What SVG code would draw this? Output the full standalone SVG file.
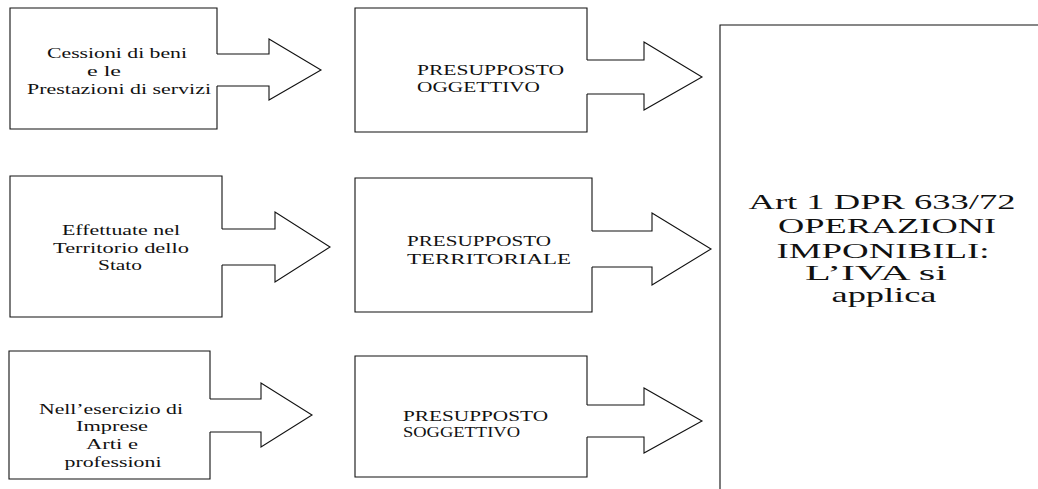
<svg xmlns="http://www.w3.org/2000/svg" width="1038" height="489" viewBox="0 0 1038 489" font-family="Liberation Serif, Times New Roman, Tinos, Nimbus Roman, serif">
<style>
.box{fill:none;stroke:#111;stroke-width:1.1}
.arr{fill:none;stroke:#111;stroke-width:1.1;stroke-linejoin:miter}
text{font-family:"Liberation Serif","Times New Roman",Tinos,serif;fill:#111}
.s{font-size:15.5px}
.c{text-anchor:middle}
.b{font-size:22px;text-anchor:middle}
</style>
<rect width="1038" height="489" fill="#fff"/>
<g id="n-cessioni">
<path class="box" d="M217,54 V8 H10 V129 H217 V86"/>
<text class="s c" x="117" y="58" textLength="140" lengthAdjust="spacingAndGlyphs">Cessioni di beni</text>
<text class="s c" x="104" y="76" textLength="34" lengthAdjust="spacingAndGlyphs">e le</text>
<text class="s c" x="119" y="94" textLength="184" lengthAdjust="spacingAndGlyphs">Prestazioni di servizi</text>
</g>
<g id="n-oggettivo">
<path class="box" d="M587,60 V8 H355 V132 H587 V94"/>
<text class="s" x="417" y="75" textLength="147" lengthAdjust="spacingAndGlyphs">PRESUPPOSTO</text>
<text class="s" x="417" y="92" textLength="123" lengthAdjust="spacingAndGlyphs">OGGETTIVO</text>
</g>
<g id="n-effettuate">
<path class="box" d="M222,229 V176 H10 V317 H222 V265"/>
<text class="s c" x="121" y="235" textLength="118" lengthAdjust="spacingAndGlyphs">Effettuate nel</text>
<text class="s c" x="121" y="253" textLength="136" lengthAdjust="spacingAndGlyphs">Territorio dello</text>
<text class="s c" x="120" y="270" textLength="44" lengthAdjust="spacingAndGlyphs">Stato</text>
</g>
<g id="n-territoriale">
<path class="box" d="M592,231 V178 H355 V312 H592 V267"/>
<text class="s" x="407" y="246" textLength="144" lengthAdjust="spacingAndGlyphs">PRESUPPOSTO</text>
<text class="s" x="407" y="264" textLength="164" lengthAdjust="spacingAndGlyphs">TERRITORIALE</text>
</g>
<g id="n-esercizio">
<path class="box" d="M210,399 V351 H9 V479 H210 V432"/>
<text class="s c" x="111" y="414" textLength="144" lengthAdjust="spacingAndGlyphs">Nell’esercizio di</text>
<text class="s c" x="112" y="431" textLength="72" lengthAdjust="spacingAndGlyphs">Imprese</text>
<text class="s c" x="112" y="449" textLength="52" lengthAdjust="spacingAndGlyphs">Arti e</text>
<text class="s c" x="113" y="467" textLength="97" lengthAdjust="spacingAndGlyphs">professioni</text>
</g>
<g id="n-soggettivo">
<path class="box" d="M587,405 V356 H355 V477 H587 V437"/>
<text class="s" x="403" y="421" textLength="145" lengthAdjust="spacingAndGlyphs">PRESUPPOSTO</text>
<text class="s" x="403" y="437" textLength="117" lengthAdjust="spacingAndGlyphs">SOGGETTIVO</text>
</g>
<g id="n-iva">
<path class="box" d="M1040,25 H720 V490"/>
<text class="b" x="882" y="209" textLength="267" lengthAdjust="spacingAndGlyphs">Art 1 DPR 633/72</text>
<text class="b" x="887" y="233" textLength="218" lengthAdjust="spacingAndGlyphs">OPERAZIONI</text>
<text class="b" x="883" y="258" textLength="213" lengthAdjust="spacingAndGlyphs">IMPONIBILI:</text>
<text class="b" x="876" y="280" textLength="142" lengthAdjust="spacingAndGlyphs">L’IVA si</text>
<text class="b" x="884" y="302" textLength="105" lengthAdjust="spacingAndGlyphs">applica</text>
</g>
<g id="connectors">
<path class="arr" d="M217,54 H269 V39 L321,70 L269,100 V86 H217"/>
<path class="arr" d="M587,60 H644 V42 L702,77 L644,110 V94 H587"/>
<path class="arr" d="M222,229 H275 V212 L330,247 L275,282 V265 H222"/>
<path class="arr" d="M592,231 H652 V213 L711,249 L652,285 V267 H592"/>
<path class="arr" d="M210,399 H261 V383 L312,415 L261,447 V432 H210"/>
<path class="arr" d="M587,405 H644 V388 L702,421 L644,453 V437 H587"/>
</g>
</svg>
